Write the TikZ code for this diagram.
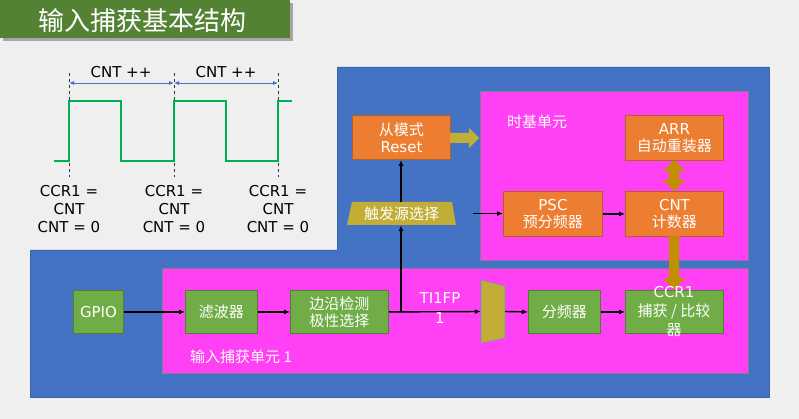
\documentclass[tikz,border=0pt]{standalone}
\usepackage{fontspec}
\setmainfont{DejaVu Sans}
\newfontfamily\cjk{Noto Sans CJK SC}
\usetikzlibrary{arrows.meta}
\definecolor{bgc}{HTML}{EFEFEF}
\definecolor{titleg}{HTML}{548235}
\definecolor{blueF}{HTML}{4472C4}
\definecolor{blueD}{HTML}{3A64AE}
\definecolor{magF}{HTML}{FF40F5}
\definecolor{magD}{HTML}{7F7F8F}
\definecolor{orF}{HTML}{ED7D31}
\definecolor{orD}{HTML}{B0602A}
\definecolor{grF}{HTML}{70AD47}
\definecolor{grD}{HTML}{507E32}
\definecolor{oliveF}{HTML}{C2AE36}
\definecolor{goldF}{HTML}{BF8F00}
\definecolor{waveg}{HTML}{00B050}
\tikzset{
  box/.style={draw, line width=0.9pt, inner sep=0pt, align=center, text=white, anchor=north west},
  obox/.style={box, fill=orF, draw=orD},
  gbox/.style={box, fill=grF, draw=grD},
  conn/.style={line width=1.4pt, -{Latex[length=6pt,width=5pt]}},
  wlabel/.style={align=center, text=black, font=\fontsize{15}{18}\selectfont},
  plabel/.style={text=white, inner sep=0pt},
}
\begin{document}
\begin{tikzpicture}[x=1pt,y=-1pt, font=\fontsize{15}{17}\selectfont]
\useasboundingbox (0,0) rectangle (799,419);
\fill[bgc] (0,0) rectangle (799,419);
% title
\fill[black!35] (3,3) rectangle (293,41);
\fill[titleg] (0,0) rectangle (290,38);
\node[text=white, font=\fontsize{26}{30}\selectfont\cjk] (title) at (142,21) {输入捕获基本结构};
% blue region
\draw[fill=blueF, draw=blueD, line width=0.8pt] (30,250) -- (337,250) -- (337,67) -- (769,67) -- (769,397) -- (30,397) -- cycle;
% magenta units
\draw[fill=magF, draw=magD, line width=0.8pt] (480,91) rectangle (748,260);
\draw[fill=magF, draw=magD, line width=0.8pt] (162,268) rectangle (748,373);
\node[plabel, anchor=west] (tblabel) at (507,122) {\cjk 时基单元};
\node[plabel, anchor=west] (iclabel) at (190,357) {\cjk 输入捕获单元 1};
% orange boxes
\node[obox, minimum width=98pt, minimum height=44pt] (reset) at (352,115) {{\cjk 从模式}\\Reset};
\node[obox, minimum width=98pt, minimum height=45pt] (arr) at (625,115) {ARR\\{\cjk 自动重装器}};
\node[obox, minimum width=99pt, minimum height=45pt] (psc) at (503,191) {PSC\\{\cjk 预分频器}};
\node[obox, minimum width=98pt, minimum height=45pt] (cnt) at (625,191) {CNT\\{\cjk 计数器}};
% trigger trapezoid
\fill[oliveF] (352,202) -- (452,202) -- (456,225) -- (347,225) -- cycle;
\node[text=white, inner sep=0pt, minimum width=100pt, minimum height=23pt] (trig) at (401.5,213.5) {\cjk 触发源选择};
% green boxes
\node[gbox, minimum width=50pt, minimum height=43pt] (gpio) at (73,290) {GPIO};
\node[gbox, minimum width=72pt, minimum height=43pt] (filt) at (185,290) {\cjk 滤波器};
\node[gbox, minimum width=98pt, minimum height=43pt] (edge) at (290,290) {{\cjk 边沿检测}\\{\cjk 极性选择}};
\node[gbox, minimum width=72pt, minimum height=43pt] (div) at (528,290) {\cjk 分频器};
\node[gbox, minimum width=98pt, minimum height=43pt] (ccr) at (625,290) {};
% mux
\draw[fill=oliveF, draw=blueD!70, line width=0.6pt] (481,280) -- (505,286) -- (505,338) -- (481,343) -- cycle;
\node[inner sep=0pt, minimum width=24pt, minimum height=63pt] (mux) at (493,311.5) {};
% thick arrows
\fill[oliveF] (450,133) -- (469,133) -- (469,128) -- (479,138) -- (469,148) -- (469,143) -- (450,143) -- cycle;
\fill[goldF] (674,160) -- (685,171) -- (679,171) -- (679,180) -- (685,180) -- (674,191) -- (663,180) -- (669,180) -- (669,171) -- (663,171) -- cycle;
\fill[goldF] (669,236) -- (679,236) -- (679,278) -- (685,278) -- (674,290) -- (663,278) -- (669,278) -- cycle;
\node[text=white, align=center, font=\fontsize{15}{19}\selectfont] (ccrtext) at (674,312) {CCR1\\{\cjk 捕获 / 比较}\\{\cjk 器}};
% connectors
\coordinate (br) at (401,311.5);
\coordinate (tstart) at (473,213.5);
\draw[conn] (gpio) -- (filt);
\draw[conn] (filt) -- (edge);
\draw[conn] (edge.east) -- (mux.west);
\draw[conn] (br) -- (br |- trig.south);
\draw[conn] (br |- trig.north) -- (br |- reset.south);
\draw[conn] (tstart) -- (tstart -| psc.west);
\draw[conn] (psc) -- (cnt);
\draw[conn] (mux.east) -- (div.west);
\draw[conn] (div) -- (ccr);
\node[plabel, align=center, font=\fontsize{15}{20}\selectfont] (ti) at (440,308) {TI1FP\\1};
% waveform
\foreach \x/\n in {69/a,174/b,278/c} {
  \coordinate (t\n) at (\x,73);
  \coordinate (b\n) at (\x,177);
  \draw[dashed, line width=0.7pt, black!80] (t\n) -- (b\n);
}
\coordinate (l1) at (69,83); \coordinate (l2) at (174,83); \coordinate (l3) at (278,83);
\draw[blueF, line width=0.8pt, {Latex[length=5pt,width=4pt]}-{Latex[length=5pt,width=4pt]}] (l1) -- (l2);
\draw[blueF, line width=0.8pt, {Latex[length=5pt,width=4pt]}-{Latex[length=5pt,width=4pt]}] (l2) -- (l3);
\node[wlabel] (cnt1) at (121,72) {CNT ++};
\node[wlabel] (cnt2) at (226,72) {CNT ++};
\draw[waveg, line width=2pt] (54,161) -- (69,161) -- (69,101) -- (121,101) -- (121,161) -- (174,161) -- (174,101) -- (226,101) -- (226,161) -- (278,161) -- (278,101) -- (292,101);
\node[wlabel] (c1) at (69,209) {CCR1 =\\CNT\\CNT = 0};
\node[wlabel] (c2) at (174,209) {CCR1 =\\CNT\\CNT = 0};
\node[wlabel] (c3) at (278,209) {CCR1 =\\CNT\\CNT = 0};
\end{tikzpicture}
\end{document}
